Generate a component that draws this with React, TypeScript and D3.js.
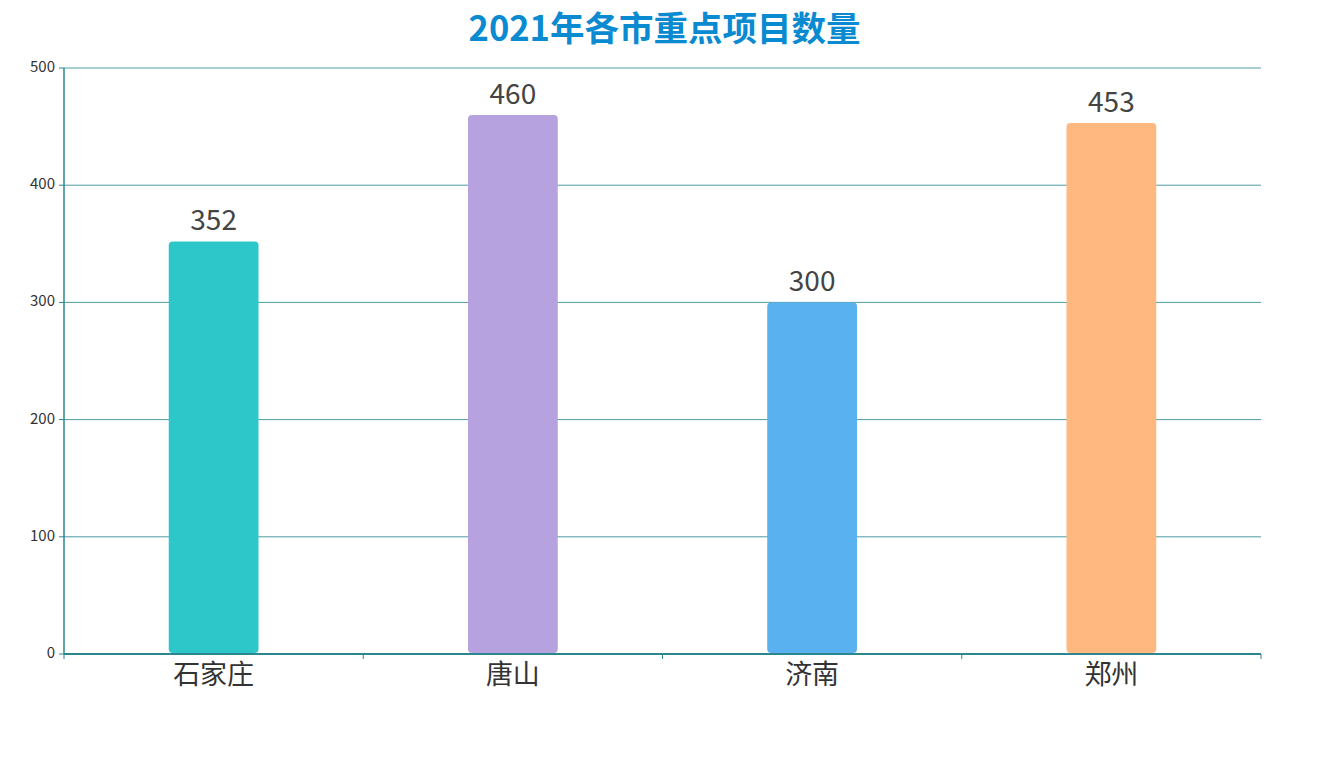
import React from "react";
import * as d3 from "d3";

const categories = ["石家庄", "唐山", "济南", "郑州"];
const values = [352, 460, 300, 453];
const colors = ["#2ec7c9", "#b6a2de", "#5ab1ef", "#ffb980"];
const yTicks = [0, 100, 200, 300, 400, 500];
const title = "2021年各市重点项目数量";

const W = 1329, H = 757;
const left = 64, right = 1261, top = 68, bottom = 654;
const font = "'Noto Sans CJK SC', 'Noto Sans', sans-serif";

export default function App() {
  const x = d3.scaleBand<string>().domain(categories).range([left, right]).paddingInner(0).paddingOuter(0);
  const y = d3.scaleLinear().domain([0, 500]).range([bottom, top]);
  const bw = x.bandwidth() * 0.3;
  const r = 4;
  return (
    <svg width={W} height={H} style={{ position: "absolute", left: 0, top: 0 }}>
      <text x={W / 2} y={32} textAnchor="middle" dominantBaseline="middle" fontFamily={font} fontWeight="bold" fontSize={34.5} fill="#0a8ad0">{title}</text>
      {yTicks.map(t => (
        <g key={t}>
          {t > 0 && <line x1={left} x2={right} y1={y(t)} y2={y(t)} stroke="#4e9ca3" strokeWidth={1} />}
          <line x1={left - 5} x2={left} y1={y(t)} y2={y(t)} stroke="#2b8690" />
          <text x={left - 9} y={y(t)} textAnchor="end" dominantBaseline="middle" fontFamily={font} fontSize={15} fill="#333">{t}</text>
        </g>
      ))}
      {categories.map((c, i) => {
        const cx = x(c)! + x.bandwidth() / 2;
        const y0 = y(values[i]);
        const h = bottom - 1 - y0;
        return (
          <g key={c}>
            <rect x={cx - bw / 2} y={y0} width={bw} height={h} rx={r} ry={r} fill={colors[i]} />
            <text x={cx} y={y0 - 11} textAnchor="middle" fontFamily={font} fontSize={28} fill="#444">{values[i]}</text>
            <text x={cx} y={bottom + 30} textAnchor="middle" fontFamily={font} fontSize={27} fill="#333">{c}</text>
          </g>
        );
      })}
      {categories.concat([""]).map((c, i) => {
        const xx = left + i * x.bandwidth();
        return <line key={i} x1={xx} x2={xx} y1={bottom} y2={bottom + 5} stroke="#2b8690" />;
      })}
      <line x1={left} x2={left} y1={top} y2={bottom} stroke="#2b8690" strokeWidth={1.5} />
      <line x1={left} x2={right} y1={bottom} y2={bottom} stroke="#2b8690" strokeWidth={2} />
    </svg>
  );
}
